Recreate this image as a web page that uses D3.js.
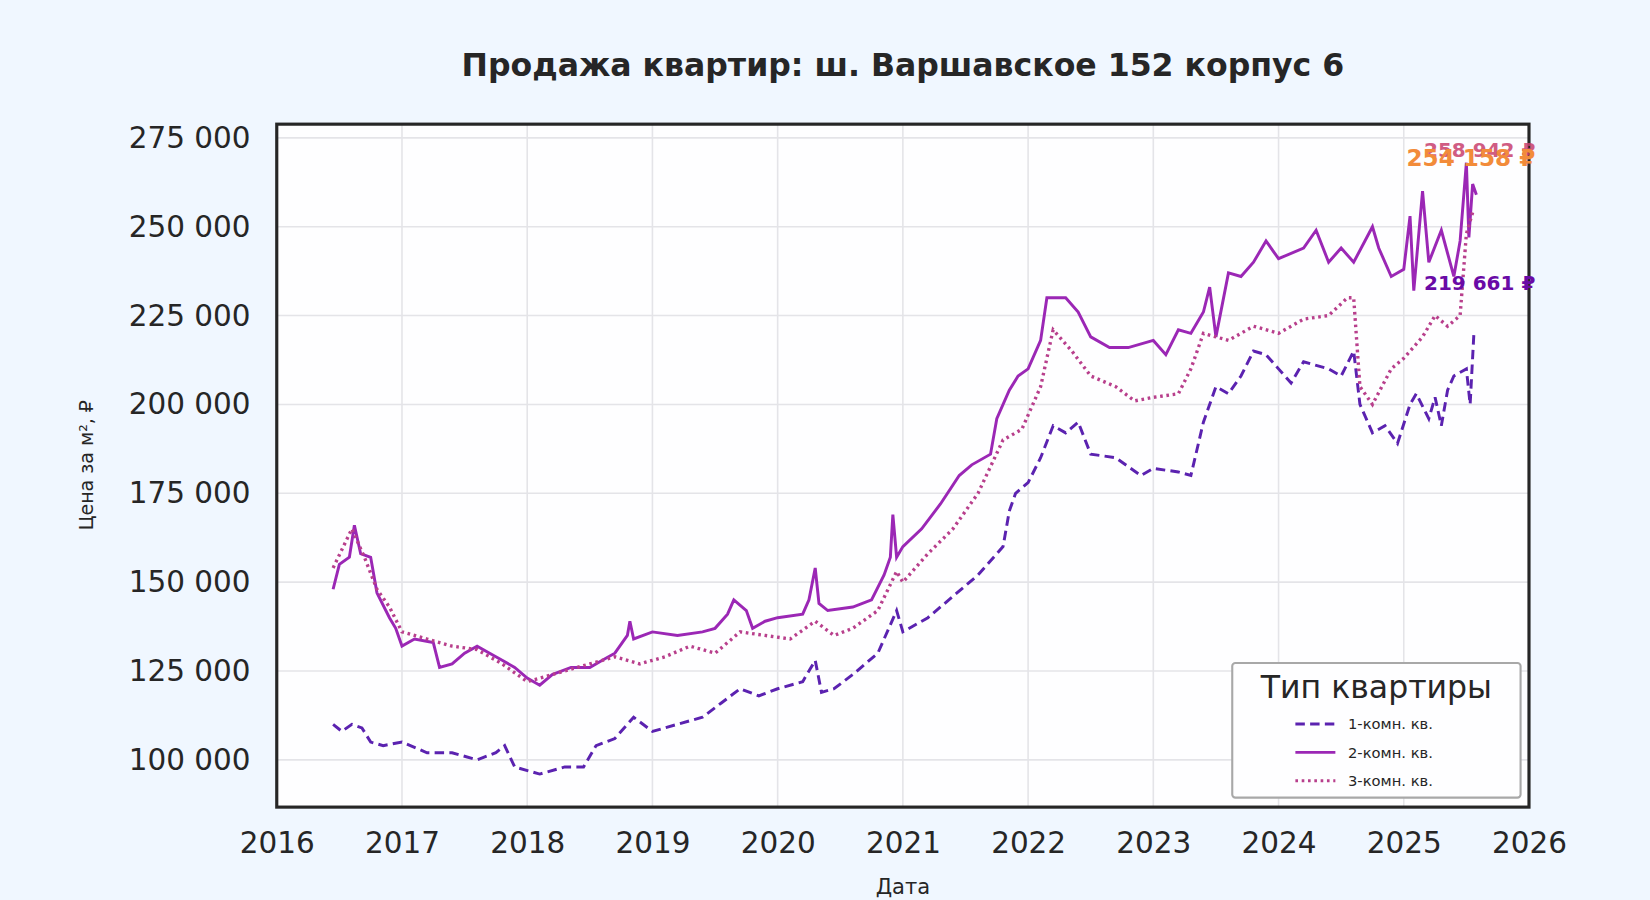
<!DOCTYPE html>
<html><head><meta charset="utf-8">
<script src="https://cdn.jsdelivr.net/npm/d3@7"></script>
<style>body{margin:0;background:#f0f7ff;font-family:"DejaVu Sans",sans-serif}</style>
</head><body><svg id="c" width="1650" height="900"></svg>
<script>
// [decimal year, price thousand ₽]
const room1 = [[2016.45,110],[2016.52,108],[2016.6,110],[2016.68,109],[2016.75,105],[2016.85,104],[2017.0,105],[2017.2,102],[2017.4,102],[2017.6,100],[2017.75,102],[2017.82,104],[2017.9,98],[2018.1,96],[2018.3,98],[2018.45,98],[2018.55,104],[2018.7,106],[2018.8,110],[2018.85,112],[2019.0,108],[2019.2,110],[2019.4,112],[2019.55,116],[2019.7,120],[2019.85,118],[2020.0,120],[2020.2,122],[2020.3,128],[2020.35,119],[2020.45,120],[2020.6,124],[2020.8,130],[2020.95,142],[2021.0,136],[2021.2,140],[2021.4,146],[2021.6,152],[2021.8,160],[2021.85,170],[2021.9,175],[2022.0,178],[2022.1,185],[2022.2,194],[2022.3,192],[2022.4,195],[2022.5,186],[2022.7,185],[2022.9,180],[2023.0,182],[2023.2,181],[2023.3,180],[2023.4,195],[2023.5,205],[2023.6,203],[2023.7,208],[2023.8,215],[2023.9,214],[2024.0,210],[2024.1,206],[2024.2,212],[2024.4,210],[2024.5,208],[2024.6,215],[2024.65,200],[2024.75,192],[2024.85,194],[2024.95,189],[2025.05,200],[2025.1,203],[2025.2,196],[2025.25,202],[2025.3,194],[2025.35,204],[2025.4,208],[2025.5,210],[2025.53,200],[2025.56,220]];
const room2 = [[2016.45,148],[2016.5,155],[2016.58,157],[2016.62,166],[2016.67,158],[2016.75,157],[2016.8,147],[2016.9,140],[2016.95,137],[2017.0,132],[2017.1,134],[2017.25,133],[2017.3,126],[2017.4,127],[2017.5,130],[2017.6,132],[2017.7,130],[2017.8,128],[2017.9,126],[2018.0,123],[2018.1,121],[2018.2,124],[2018.35,126],[2018.5,126],[2018.6,128],[2018.7,130],[2018.8,135],[2018.82,139],[2018.85,134],[2019.0,136],[2019.2,135],[2019.4,136],[2019.5,137],[2019.6,141],[2019.65,145],[2019.75,142],[2019.8,137],[2019.9,139],[2020.0,140],[2020.2,141],[2020.25,145],[2020.3,154],[2020.33,144],[2020.4,142],[2020.6,143],[2020.75,145],[2020.85,152],[2020.9,157],[2020.92,169],[2020.95,157],[2021.0,160],[2021.15,165],[2021.3,172],[2021.45,180],[2021.55,183],[2021.7,186],[2021.75,196],[2021.85,204],[2021.92,208],[2022.0,210],[2022.1,218],[2022.15,230],[2022.3,230],[2022.4,226],[2022.5,219],[2022.65,216],[2022.8,216],[2023.0,218],[2023.1,214],[2023.2,221],[2023.3,220],[2023.4,226],[2023.45,233],[2023.5,219],[2023.6,237],[2023.7,236],[2023.8,240],[2023.9,246],[2024.0,241],[2024.2,244],[2024.3,249],[2024.4,240],[2024.5,244],[2024.6,240],[2024.75,250],[2024.8,244],[2024.9,236],[2025.0,238],[2025.05,253],[2025.08,232],[2025.15,260],[2025.2,240],[2025.3,249],[2025.4,236],[2025.45,246],[2025.5,268],[2025.52,247],[2025.55,262],[2025.58,259]];
const room3 = [[2016.45,154],[2016.6,165],[2016.7,157],[2016.8,148],[2016.9,143],[2017.0,136],[2017.2,134],[2017.4,132],[2017.6,131],[2017.8,127],[2018.0,122],[2018.2,124],[2018.5,127],[2018.7,129],[2018.9,127],[2019.1,129],[2019.3,132],[2019.5,130],[2019.7,136],[2019.9,135],[2020.1,134],[2020.3,139],[2020.45,135],[2020.6,137],[2020.8,142],[2020.95,153],[2021.0,150],[2021.2,158],[2021.4,165],[2021.6,175],[2021.8,190],[2021.95,193],[2022.1,205],[2022.2,221],[2022.35,215],[2022.5,208],[2022.7,205],[2022.85,201],[2023.0,202],[2023.2,203],[2023.3,210],[2023.4,220],[2023.6,218],[2023.8,222],[2024.0,220],[2024.2,224],[2024.4,225],[2024.55,230],[2024.6,230],[2024.65,205],[2024.75,200],[2024.9,210],[2025.0,213],[2025.15,219],[2025.25,225],[2025.35,222],[2025.45,225],[2025.5,248],[2025.55,254]];
const seriesNames = ["1-комн. кв.","2-комн. кв.","3-комн. кв."];
const seriesColors = ["#5b22b0","#9b27b5","#b83f8c"];
const seriesDash = ["9,5",null,"2.5,3.5"];
const lastLabels = [[219.661,"219 661 ₽","#6a0aa6"],[258.942,"258 942 ₽","#c8406e"],[254.158,"254 158 ₽","#f28b3a"]];
const yTicks = [100,125,150,175,200,225,250,275];
const xTicks = d3.range(2016,2027);

// layout measured on a 1568-wide view, scaled up to 1650
const root = d3.select("#c").append("g").attr("transform","scale(1.0523)");
const L=263,R=1453,T=118,B=767;
const x = d3.scaleLinear().domain([2016,2026]).range([L,R]);
const y = d3.scaleLinear().domain([86.7,278.85]).range([B,T]);
root.append("rect").attr("x",L).attr("y",T).attr("width",R-L).attr("height",B-T).attr("fill","#fefeff");
const g = root.append("g");
g.selectAll(".gx").data(xTicks).join("line").attr("x1",d=>x(d)).attr("x2",d=>x(d)).attr("y1",T).attr("y2",B).attr("stroke","#e4e4e8").attr("stroke-width",1.5);
g.selectAll(".gy").data(yTicks).join("line").attr("y1",d=>y(d)).attr("y2",d=>y(d)).attr("x1",L).attr("x2",R).attr("stroke","#e4e4e8").attr("stroke-width",1.5);
const line = d3.line().x(d=>x(d[0])).y(d=>y(d[1]));
[room1,room2,room3].forEach((s,i)=>{
  g.append("path").datum(s).attr("d",line).attr("fill","none").attr("stroke",seriesColors[i]).attr("stroke-width",i==2?3.2:2.8).attr("stroke-dasharray",seriesDash[i]);
});
root.append("rect").attr("x",L).attr("y",T).attr("width",R-L).attr("height",B-T).attr("fill","none").attr("stroke","#262626").attr("stroke-width",3);
const fmt = v=>d3.format(",")(v*1000).replace(/,/g," ");
const ya = root.append("g").attr("transform",`translate(${L},0)`).call(d3.axisLeft(y).tickValues(yTicks).tickFormat(fmt).tickSize(0).tickPadding(25));
const xa = root.append("g").attr("transform",`translate(0,${B})`).call(d3.axisBottom(x).tickValues(xTicks).tickFormat(d3.format("d")).tickSize(0).tickPadding(24));
[ya,xa].forEach(a=>{a.select(".domain").remove();a.selectAll("text").attr("font-size",28).attr("fill","#262626").attr("font-family","DejaVu Sans");});
lastLabels.forEach(([v,t,c],i)=>{
  root.append("text").attr("x",R+6).attr("y",y(v)-[42,36,44][i]).attr("text-anchor","end").attr("font-size",i==2?22:19).attr("font-weight","bold").attr("fill",c).attr("opacity",i==1?0.85:1).text(t);
});
root.append("text").attr("x",858).attr("y",72).attr("text-anchor","middle").attr("font-size",30).attr("font-weight","bold").attr("fill","#262626").text("Продажа квартир: ш. Варшавское 152 корпус 6");
root.append("text").attr("x",858).attr("y",850).attr("text-anchor","middle").attr("font-size",20).attr("fill","#262626").text("Дата");
root.append("text").attr("transform","translate(88,442) rotate(-90)").attr("text-anchor","middle").attr("font-size",18).attr("fill","#262626").text("Цена за м², ₽");
const lg = root.append("g").attr("transform","translate(1171,630)");
lg.append("rect").attr("width",274).attr("height",128).attr("rx",3).attr("fill","#fefeff").attr("stroke","#a8a8a8").attr("stroke-width",2);
lg.append("text").attr("x",137).attr("y",33).attr("text-anchor","middle").attr("font-size",30).attr("fill","#262626").text("Тип квартиры");
seriesNames.forEach((n,i)=>{
  const yy=58+i*27;
  lg.append("line").attr("x1",60).attr("x2",98).attr("y1",yy).attr("y2",yy).attr("stroke",seriesColors[i]).attr("stroke-width",2.8).attr("stroke-dasharray",seriesDash[i]);
  lg.append("text").attr("x",110).attr("y",yy+5).attr("font-size",14).attr("fill","#262626").text(n);
});
</script></body></html>
